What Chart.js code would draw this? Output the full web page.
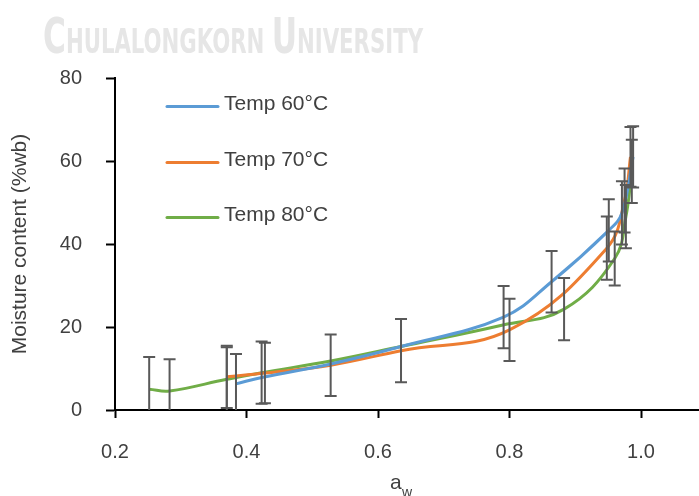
<!DOCTYPE html>
<html>
<head>
<meta charset="utf-8">
<title>Moisture sorption</title>
<script src="https://cdn.jsdelivr.net/npm/chart.js@4.4.0/dist/chart.umd.min.js"></script>
<style>
    html, body { margin: 0; padding: 0; background: #fff; }
    #wrap { position: relative; width: 699px; height: 496px; }
</style>
</head>
<body>
<div id="wrap"><canvas id="sorption" width="699" height="496"></canvas></div>
<script>
    "use strict";

    // Data
    const seriesLabels = ["Temp 60°C", "Temp 70°C", "Temp 80°C"];

    const temp60Aw = [0.384, 0.425, 0.528, 0.635, 0.791, 0.864, 0.951, 0.971, 0.988];
    const temp60Mc = [6.3, 7.9, 11.1, 15.3, 22.4, 30.9, 43.3, 47.5, 61.0];
    const temp60Err = [7.2, null, null, null, 7.5, 7.4, 7.5, 7.6, 7.4];

    const temp70Aw = [0.370, 0.428, 0.528, 0.635, 0.800, 0.948, 0.975, 0.984];
    const temp70Mc = [8.0, 8.9, 10.8, 14.3, 19.3, 39.0, 50.5, 61.0];
    const temp70Err = [7.5, 7.3, 7.4, 7.6, 7.5, 7.6, 7.7, 7.2];

    const temp80Aw = [0.252, 0.283, 0.370, 0.423, 0.528, 0.635, 0.790, 0.883, 0.960, 0.977, 0.986];
    const temp80Mc = [5.0, 4.6, 7.4, 9.0, 11.8, 15.3, 20.5, 24.3, 36.5, 46.6, 57.5];
    const temp80Err = [7.8, 7.6, 7.7, 7.5, null, null, null, 7.5, 6.5, 7.6, 7.6];

    const xTicks = [0.2, 0.4, 0.6, 0.8, 1.0];
    const yTicks = [0, 20, 40, 60, 80];

    const fontFamily = '"Liberation Sans", Arial, sans-serif';
    const textColor = "#404040";
    const colors = ["#5B9BD5", "#ED7D31", "#70AD47"];

    function toPoints(xs, ys) {
        return xs.map(function (x, i) { return {x: x, y: ys[i]}; });
    }

    // Watermark at the top of the page
    const watermark = {
        id: "watermark",
        beforeDraw(chart) {
            const ctx = chart.ctx;
            const parts = [["C", 50], ["HULALONGKORN ", 34], ["U", 50], ["NIVERSITY", 34]];
            const face = ' "Liberation Sans Narrow", "DejaVu Sans Condensed", sans-serif';
            ctx.save();
            let total = 0;
            parts.forEach(function (p) {
                ctx.font = "bold " + p[1] + "px" + face;
                total += ctx.measureText(p[0]).width;
            });
            const sx = 380 / total;
            ctx.translate(43, 53);
            ctx.scale(sx, 1);
            ctx.fillStyle = "#e6e6e6";
            ctx.textBaseline = "alphabetic";
            let x = 0;
            parts.forEach(function (p) {
                ctx.font = "bold " + p[1] + "px" + face;
                ctx.fillText(p[0], x, 0);
                x += ctx.measureText(p[0]).width;
            });
            ctx.restore();
        }
    };

    // Error bars
    const errorBars = {
        id: "errorBars",
        afterDatasetsDraw(chart) {
            const ctx = chart.ctx;
            const xs = chart.scales.x;
            const ys = chart.scales.y;
            const area = chart.chartArea;
            ctx.save();
            ctx.beginPath();
            ctx.rect(area.left, 0, area.right - area.left, area.bottom);
            ctx.clip();
            ctx.strokeStyle = "#595959";
            ctx.lineWidth = 2;
            chart.data.datasets.forEach(function (ds) {
                ds.data.forEach(function (pt, i) {
                    const e = ds.errors[i];
                    if (e == null) return;
                    const px = xs.getPixelForValue(pt.x);
                    const top = ys.getPixelForValue(pt.y + e);
                    const bot = ys.getPixelForValue(pt.y - e);
                    ctx.beginPath();
                    ctx.moveTo(px, top); ctx.lineTo(px, bot);
                    ctx.moveTo(px - 6, top); ctx.lineTo(px + 6, top);
                    ctx.moveTo(px - 6, bot); ctx.lineTo(px + 6, bot);
                    ctx.stroke();
                });
            });
            ctx.restore();
        }
    };

    // Legend and axis titles
    const extras = {
        id: "extras",
        afterDraw(chart) {
            const ctx = chart.ctx;
            ctx.save();
            const legendY = [106.5, 162.5, 217.5];
            chart.data.datasets.forEach(function (ds, i) {
                ctx.strokeStyle = ds.borderColor;
                ctx.lineWidth = 3;
                ctx.lineCap = "round";
                ctx.beginPath();
                ctx.moveTo(167, legendY[i]);
                ctx.lineTo(218, legendY[i]);
                ctx.stroke();
                ctx.fillStyle = textColor;
                ctx.font = "21px " + fontFamily;
                ctx.textBaseline = "middle";
                ctx.textAlign = "left";
                ctx.fillText(ds.label, 224, legendY[i] - 2);
            });

            // y title
            ctx.translate(20.5, 244);
            ctx.rotate(-Math.PI / 2);
            ctx.textAlign = "center";
            ctx.textBaseline = "middle";
            ctx.font = "21px " + fontFamily;
            ctx.fillText("Moisture content (%wb)", 0, 0);
            ctx.setTransform(1, 0, 0, 1, 0, 0);

            // x title a_w
            ctx.textAlign = "left";
            ctx.textBaseline = "alphabetic";
            ctx.font = "21px " + fontFamily;
            ctx.fillText("a", 390, 489);
            ctx.font = "14px " + fontFamily;
            ctx.fillText("w", 402, 497);
            ctx.restore();
        }
    };

    const ctx = document.getElementById("sorption").getContext("2d");
    const aws = [temp60Aw, temp70Aw, temp80Aw];
    const mcs = [temp60Mc, temp70Mc, temp80Mc];
    const errs = [temp60Err, temp70Err, temp80Err];

    const sorptionChart = new Chart(ctx, {
        type: "scatter",
        data: {
            datasets: seriesLabels.map(function (label, i) {
                return {
                    label: label,
                    data: toPoints(aws[i], mcs[i]),
                    errors: errs[i],
                    showLine: true,
                    borderColor: colors[i],
                    backgroundColor: colors[i],
                    borderWidth: 3,
                    pointRadius: 0,
                    tension: 0.4
                };
            })
        },
        options: {
            responsive: false,
            animation: false,
            layout: {padding: {top: 78, left: 0, right: 0, bottom: 0}},
            plugins: {legend: {display: false}, tooltip: {enabled: false}},
            scales: {
                x: {
                    type: "linear",
                    min: 0.2,
                    max: 1.0882,
                    afterBuildTicks: function (scale) {
                        scale.ticks = xTicks.map(function (v) { return {value: v}; });
                    },
                    afterFit: function (scale) { scale.height = 86; },
                    border: {color: "#000", width: 2},
                    grid: {drawOnChartArea: false, drawTicks: true, tickLength: 8, tickColor: "#000", tickWidth: 2},
                    ticks: {
                        color: textColor,
                        font: {family: fontFamily, size: 20},
                        padding: 22,
                        maxRotation: 0,
                        callback: function (v) { return Number(v).toFixed(1); }
                    }
                },
                y: {
                    min: 0,
                    max: 80,
                    afterBuildTicks: function (scale) {
                        scale.ticks = yTicks.map(function (v) { return {value: v}; });
                    },
                    afterFit: function (scale) { scale.width = 115; },
                    border: {color: "#000", width: 2},
                    grid: {drawOnChartArea: false, drawTicks: true, tickLength: 9, tickColor: "#000", tickWidth: 2},
                    ticks: {
                        color: textColor,
                        font: {family: fontFamily, size: 20},
                        padding: 24
                    }
                }
            }
        },
        plugins: [watermark, errorBars, extras]
    });
</script>
</body>
</html>
